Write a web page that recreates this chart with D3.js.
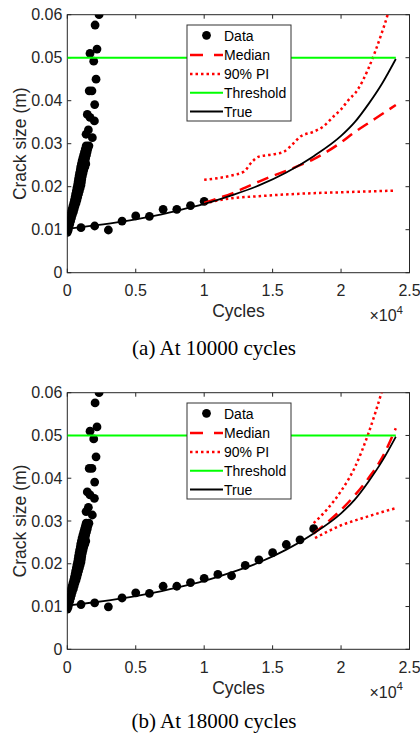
<!DOCTYPE html>
<html><head><meta charset="utf-8">
<script src="https://cdn.jsdelivr.net/npm/d3@7"></script>
<style>
body{margin:0;background:#fff;}
svg{display:block;}
</style></head>
<body>
<svg id="chart" width="420" height="739"></svg>
<script>
// ---- data (cycles, crack size in m) ----
const dataCycles = [0,1000,2000,3000,4000,5000,6000,7000,8000,9000,10000,11000,12000,13000,14000,15000,16000,17000,18000];
const dataSize   = [0.0100,0.01047,0.01086,0.00993,0.0120,0.0132,0.0131,0.01474,0.01474,0.0156,0.0166,0.0175,0.0172,0.0196,0.0209,0.0226,0.0245,0.0256,0.0282];

const clusterCycles = [2320,2030,2170,1660,1930,2100,1600,1800,2000,1460,1660,1980,1540,1370,1830,
  1380,1580,1320,1500,1260,1450,1200,1400,1140,1340,1080,1300,1030,1350,980,1280,950,1200,900,1150,860,1100,
  820,1060,790,1030,750,1000,700,940,660,880,610,820,570,760,520,700,470,640,410,560,350,500,280,440,
  200,360,120,300,60,240,20,180,0,120,0,60,0];
const clusterSize = [0.0600,0.0576,0.0520,0.0510,0.0492,0.0450,0.0423,0.0423,0.0391,0.0368,0.0361,0.0353,0.0332,0.0322,0.0314,
  0.0295,0.0295,0.0288,0.0288,0.0281,0.0281,0.0274,0.0274,0.0267,0.0267,0.0260,0.0260,0.0253,0.0253,0.0246,0.0246,0.0239,0.0239,0.0232,0.0232,0.0225,0.0225,
  0.0218,0.0218,0.0211,0.0211,0.0204,0.0204,0.0197,0.0197,0.0190,0.0190,0.0183,0.0183,0.0176,0.0176,0.0169,0.0169,0.0162,0.0162,0.0155,0.0155,0.0148,0.0148,0.0141,0.0141,
  0.0134,0.0134,0.0127,0.0127,0.0120,0.0120,0.0113,0.0113,0.0106,0.0106,0.0099,0.0099,0.0094];

const trueCycles = [0,2000,4000,6000,8000,10000,12000,14000,16000,18000,20000,21000,22000,23000,24000];
const trueSize   = [0.0102,0.0110,0.0119,0.0130,0.0144,0.0160,0.0180,0.0203,0.0233,0.0271,0.0318,0.0350,0.0392,0.0440,0.0497];

const thresholdValue = 0.05;
const thresholdEnd = 24000;

// panel (a): prediction at 10000 cycles
const aCycles    = [10000,11000,12000,13000,14000,15000,16000,17000,18000,19000,20000,21000,22000,23000,24000];
const aMedian    = [0.0162,0.0173,0.0184,0.0198,0.0212,0.0225,0.0237,0.0250,0.0264,0.0282,0.0303,0.0327,0.0348,0.0369,0.0390];
const aUpCycles  = [10000,11000,12000,12900,13500,14000,15000,15800,16500,17000,18000,18700,19500,20000,20500,21200,22000,22500,23000,23400,24000];
const aUpper     = [0.0216,0.0220,0.0226,0.0235,0.0258,0.0270,0.0275,0.0281,0.0300,0.0316,0.0328,0.0340,0.0365,0.0380,0.0400,0.0425,0.0475,0.0515,0.0560,0.0600,0.0680];
const aLoCycles  = [10000,11000,12000,14000,16000,18000,20000,22000,24000];
const aLower     = [0.0161,0.0168,0.0173,0.0178,0.0182,0.0185,0.0187,0.0189,0.0191];

// panel (b): prediction at 18000 cycles
const bCycles    = [18000,19000,20000,21000,22000,23000,24000];
const bMedian    = [0.0271,0.0297,0.0326,0.0360,0.0400,0.0448,0.0517];
const bUpper     = [0.0295,0.0328,0.0370,0.0425,0.0505,0.0605,0.0720];
const bLoCycles  = [18100,19000,20000,21000,22000,23000,24000];
const bLower     = [0.0260,0.0275,0.0290,0.0301,0.0311,0.0321,0.0330];

const xTicks = [0,5000,10000,15000,20000,25000];
const xTickLabels = ["0","0.5","1","1.5","2","2.5"];
const yTicks = [0,0.01,0.02,0.03,0.04,0.05,0.06];
const yTickLabels = ["0","0.01","0.02","0.03","0.04","0.05","0.06"];
const legendLabels = ["Data","Median","90% PI","Threshold","True"];
const captions = ["(a) At 10000 cycles","(b) At 18000 cycles"];

// ---- drawing ----
const svg = d3.select("#chart");
const axisColor = "#262626";
const sans = "'Liberation Sans', Arial, sans-serif";
const serif = "'Liberation Serif', 'Times New Roman', serif";

const zip = (xs, ys) => xs.map((x,i)=>[x, ys[i]]);

function panel(idx, top, bottom, pred, nData, capY){
  const left = 67.3, right = 409.5;
  const x = d3.scaleLinear().domain([0,25000]).range([left,right]);
  const y = d3.scaleLinear().domain([0,0.06]).range([bottom,top]);
  const g = svg.append("g");
  const clipId = "clip"+idx;
  g.append("clipPath").attr("id",clipId).append("rect")
    .attr("x",left).attr("y",top).attr("width",right-left).attr("height",bottom-top);

  // axes with inward ticks on all sides
  const tl = 4;
  const ax = g.append("g").attr("stroke",axisColor).attr("stroke-width",1).attr("fill","none");
  ax.append("rect").attr("x",left).attr("y",top).attr("width",right-left).attr("height",bottom-top);
  xTicks.forEach(t=>{
    ax.append("line").attr("x1",x(t)).attr("x2",x(t)).attr("y1",bottom).attr("y2",bottom-tl);
    ax.append("line").attr("x1",x(t)).attr("x2",x(t)).attr("y1",top).attr("y2",top+tl);
  });
  yTicks.forEach(t=>{
    ax.append("line").attr("x1",left).attr("x2",left+tl).attr("y1",y(t)).attr("y2",y(t));
    ax.append("line").attr("x1",right).attr("x2",right-tl).attr("y1",y(t)).attr("y2",y(t));
  });
  const txt = g.append("g").attr("fill",axisColor).attr("font-family",sans);
  xTicks.forEach((t,i)=>{
    txt.append("text").attr("x",x(t)).attr("y",bottom+23.5).attr("text-anchor","middle")
      .attr("font-size",16).text(xTickLabels[i]);
  });
  yTicks.forEach((t,i)=>{
    txt.append("text").attr("x",left-5).attr("y",y(t)+5.7).attr("text-anchor","end")
      .attr("font-size",16).text(yTickLabels[i]);
  });
  txt.append("text").attr("x",(left+right)/2).attr("y",bottom+44.5).attr("text-anchor","middle")
    .attr("font-size",17.5).text("Cycles");
  const mult = txt.append("text").attr("x",403).attr("y",bottom+48.5).attr("text-anchor","end").attr("font-size",16);
  mult.append("tspan").text("×10");
  mult.append("tspan").attr("font-size",11.5).attr("dy",-7.5).text("4");
  txt.append("text").attr("transform",`translate(26,${(top+bottom)/2}) rotate(-90)`)
    .attr("text-anchor","middle").attr("font-size",17.5).text("Crack size (m)");

  const plot = g.append("g").attr("clip-path",`url(#${clipId})`);
  const line = d3.line().x(d=>x(d[0])).y(d=>y(d[1])).curve(d3.curveMonotoneX);

  // data
  const pts = zip(clusterCycles, clusterSize).concat(zip(dataCycles.slice(0,nData), dataSize.slice(0,nData)));
  plot.append("g").selectAll("circle").data(pts).join("circle")
    .attr("cx",d=>x(d[0])).attr("cy",d=>y(d[1])).attr("r",4.4).attr("fill","#000");

  // prediction
  plot.append("path").attr("d",line(zip(pred.mc,pred.med))).attr("fill","none")
    .attr("stroke","#ff0000").attr("stroke-width",2.5).attr("stroke-dasharray","12,7");
  plot.append("path").attr("d",line(zip(pred.uc,pred.up))).attr("fill","none")
    .attr("stroke","#ff0000").attr("stroke-width",2.5).attr("stroke-dasharray","2.5,3");
  plot.append("path").attr("d",line(zip(pred.lc,pred.lo))).attr("fill","none")
    .attr("stroke","#ff0000").attr("stroke-width",2.5).attr("stroke-dasharray","2.5,3");
  // threshold
  plot.append("line").attr("x1",x(0)).attr("x2",x(thresholdEnd)).attr("y1",y(thresholdValue)).attr("y2",y(thresholdValue))
    .attr("stroke","#00ff00").attr("stroke-width",2);
  // true
  plot.append("path").attr("d",line(zip(trueCycles,trueSize))).attr("fill","none")
    .attr("stroke","#000").attr("stroke-width",1.8);

  // legend
  const lx = 187, ly = top+10.3, lw = 104, lh = 96;
  const lg = g.append("g");
  lg.append("rect").attr("x",lx).attr("y",ly).attr("width",lw).attr("height",lh)
    .attr("fill","#fff").attr("stroke","#333").attr("stroke-width",1);
  const rowY = i => ly + 11.3 + i*18.8;
  const x0 = lx+3, x1 = lx+36;
  lg.append("circle").attr("cx",(x0+x1)/2).attr("cy",rowY(0)-1).attr("r",4.4).attr("fill","#000");
  lg.append("line").attr("x1",x0).attr("x2",x1).attr("y1",rowY(1)).attr("y2",rowY(1))
    .attr("stroke","#ff0000").attr("stroke-width",2.5).attr("stroke-dasharray","13,11");
  lg.append("line").attr("x1",x0).attr("x2",x1).attr("y1",rowY(2)).attr("y2",rowY(2))
    .attr("stroke","#ff0000").attr("stroke-width",2.5).attr("stroke-dasharray","2.5,3");
  lg.append("line").attr("x1",x0).attr("x2",x1).attr("y1",rowY(3)).attr("y2",rowY(3))
    .attr("stroke","#00ff00").attr("stroke-width",2);
  lg.append("line").attr("x1",x0).attr("x2",x1).attr("y1",rowY(4)).attr("y2",rowY(4))
    .attr("stroke","#000").attr("stroke-width",1.8);
  legendLabels.forEach((l,i)=>{
    lg.append("text").attr("x",x1+1).attr("y",rowY(i)+5).attr("font-family",sans)
      .attr("font-size",14).attr("fill","#000").text(l);
  });

  // caption
  svg.append("text").attr("x",214).attr("y",capY).attr("text-anchor","middle")
    .attr("font-family",serif).attr("font-size",21).attr("fill","#000").text(captions[idx]);
}

panel(0, 14.7, 272.7, {mc:aCycles,med:aMedian,uc:aUpCycles,up:aUpper,lc:aLoCycles,lo:aLower}, 11, 355);
panel(1, 392.7, 649.3, {mc:bCycles,med:bMedian,uc:bCycles,up:bUpper,lc:bLoCycles,lo:bLower}, 19, 728);
</script>
</body></html>
